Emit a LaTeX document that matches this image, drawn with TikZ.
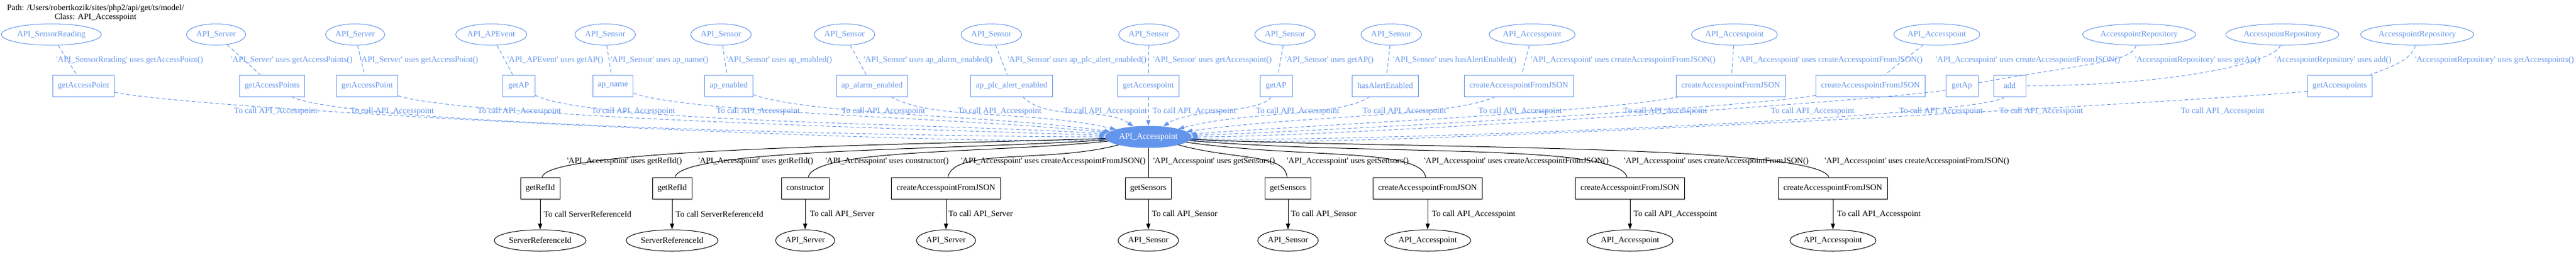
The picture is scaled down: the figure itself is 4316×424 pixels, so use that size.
\documentclass[tikz,border=0pt]{standalone}
\usepackage{fontspec}
\setmainfont{Liberation Serif}
\usepackage{tikz}
\usetikzlibrary{positioning}
\usetikzlibrary{shapes.geometric}
\usetikzlibrary{arrows.meta}
\definecolor{cfblue}{RGB}{100,149,237}
\newcommand{\apo}{\textquotesingle}

\begin{document}
\begin{tikzpicture}[
  x=1pt, y=1pt,
  font=\fontsize{14}{15}\selectfont,
  cls/.style={draw=cfblue, ellipse, text=cfblue, line width=1pt, minimum height=36pt, inner xsep=2pt, inner ysep=0pt},
  meth/.style={draw=cfblue, text=cfblue, line width=1pt, minimum width=54pt, minimum height=36pt, inner xsep=8.5pt, inner ysep=0pt},
  hub/.style={draw=cfblue, fill=cfblue, ellipse, text=white, line width=1pt, minimum height=36pt, inner xsep=2pt, inner ysep=0pt},
  bmeth/.style={draw, line width=1pt, minimum width=54pt, minimum height=36pt, inner xsep=8.5pt, inner ysep=0pt},
  leaf/.style={draw, ellipse, line width=1pt, minimum height=36pt, inner xsep=2pt, inner ysep=0pt},
  lbl/.style={anchor=west, inner sep=0pt, text=cfblue},
  blbl/.style={anchor=west, inner sep=0pt},
  uses/.style={draw=cfblue, line width=1pt, dash pattern=on 6pt off 4pt},
  calls/.style={uses, -{Triangle[length=10pt, width=7pt]}},
  link/.style={draw, line width=1pt},
  arrow/.style={link, -{Triangle[length=10pt, width=7pt]}}
]

\useasboundingbox (0,0) rectangle (4316,-424);

% Title
\node[align=center] (title) at (160,-22) {Path: /Users/robertkozik/sites/php2/api/get/ts/model/\\Class: API\_Accesspoint};

% Callers (top row)
\node[cls] (c1) at (86,-58) {API\_SensorReading};
\node[cls] (c2) at (362,-58) {API\_Server};
\node[cls] (c3) at (595,-58) {API\_Server};
\node[cls] (c4) at (823,-58) {API\_APEvent};
\node[cls] (c5) at (1014,-58) {API\_Sensor};
\node[cls] (c6) at (1208,-58) {API\_Sensor};
\node[cls] (c7) at (1415,-58) {API\_Sensor};
\node[cls] (c8) at (1661,-58) {API\_Sensor};
\node[cls] (c9) at (1925,-58) {API\_Sensor};
\node[cls] (c10) at (2153,-58) {API\_Sensor};
\node[cls] (c11) at (2331,-58) {API\_Sensor};
\node[cls] (c12) at (2567,-58) {API\_Accesspoint};
\node[cls] (c13) at (2906,-58) {API\_Accesspoint};
\node[cls] (c14) at (3245,-58) {API\_Accesspoint};
\node[cls] (c15) at (3584,-58) {AccesspointRepository};
\node[cls] (c16) at (3824,-58) {AccesspointRepository};
\node[cls] (c17) at (4050,-58) {AccesspointRepository};

% Methods used by the callers
\node[meth] (m1) at (140,-144) {getAccessPoint};
\node[meth] (m2) at (456,-144) {getAccessPoints};
\node[meth] (m3) at (615,-144) {getAccessPoint};
\node[meth] (m4) at (869,-144) {getAP};
\node[meth] (m5) at (1027,-144) {ap\_name};
\node[meth] (m6) at (1221,-144) {ap\_enabled};
\node[meth] (m7) at (1461,-144) {ap\_alarm\_enabled};
\node[meth] (m8) at (1695,-144) {ap\_plc\_alert\_enabled};
\node[meth] (m9) at (1924,-144) {getAccesspoint};
\node[meth] (m10) at (2138,-144) {getAP};
\node[meth] (m11) at (2321,-144) {hasAlertEnabled};
\node[meth] (m12) at (2545,-144) {createAccesspointFromJSON};
\node[meth] (m13) at (2900,-144) {createAccesspointFromJSON};
\node[meth] (m14) at (3134,-144) {createAccesspointFromJSON};
\node[meth] (m15) at (3287,-144) {getAp};
\node[meth] (m16) at (3367,-144) {add};
\node[meth] (m17) at (3920,-144) {getAccesspoints};

% The class itself
\node[hub] (hub) at (1924,-230) {API\_Accesspoint};

% Methods of the class and the classes they call
\node[bmeth] (b1) at (905,-316) {getRefId};
\node[bmeth] (b2) at (1126,-316) {getRefId};
\node[bmeth] (b3) at (1349,-316) {constructor};
\node[bmeth] (b4) at (1585,-316) {createAccesspointFromJSON};
\node[bmeth] (b5) at (1924,-316) {getSensors};
\node[bmeth] (b6) at (2158,-316) {getSensors};
\node[bmeth] (b7) at (2392,-316) {createAccesspointFromJSON};
\node[bmeth] (b8) at (2731,-316) {createAccesspointFromJSON};
\node[bmeth] (b9) at (3071,-316) {createAccesspointFromJSON};

\node[leaf, below=51pt of b1] (l1) {ServerReferenceId};
\node[leaf, below=51pt of b2] (l2) {ServerReferenceId};
\node[leaf, below=51pt of b3] (l3) {API\_Server};
\node[leaf, below=51pt of b4] (l4) {API\_Server};
\node[leaf, below=51pt of b5] (l5) {API\_Sensor};
\node[leaf, below=51pt of b6] (l6) {API\_Sensor};
\node[leaf, below=51pt of b7] (l7) {API\_Accesspoint};
\node[leaf, below=51pt of b8] (l8) {API\_Accesspoint};
\node[leaf, below=51pt of b9] (l9) {API\_Accesspoint};

% Labels: callers use methods
\node[lbl] (u1) at (94,-101) {\apo API\_SensorReading\apo{} uses getAccessPoint()};
\node[lbl] (u2) at (387,-101) {\apo API\_Server\apo{} uses getAccessPoints()};
\node[lbl] (u3) at (603,-101) {\apo API\_Server\apo{} uses getAccessPoint()};
\node[lbl] (u4) at (850,-101) {\apo API\_APEvent\apo{} uses getAP()};
\node[lbl] (u5) at (1023,-101) {\apo API\_Sensor\apo{} uses ap\_name()};
\node[lbl] (u6) at (1217,-101) {\apo API\_Sensor\apo{} uses ap\_enabled()};
\node[lbl] (u7) at (1447,-101) {\apo API\_Sensor\apo{} uses ap\_alarm\_enabled()};
\node[lbl] (u8) at (1688,-101) {\apo API\_Sensor\apo{} uses ap\_plc\_alert\_enabled()};
\node[lbl] (u9) at (1932,-101) {\apo API\_Sensor\apo{} uses getAccesspoint()};
\node[lbl] (u10) at (2153,-101) {\apo API\_Sensor\apo{} uses getAP()};
\node[lbl] (u11) at (2334,-101) {\apo API\_Sensor\apo{} uses hasAlertEnabled()};
\node[lbl] (u12) at (2565,-101) {\apo API\_Accesspoint\apo{} uses createAccesspointFromJSON()};
\node[lbl] (u13) at (2912,-101) {\apo API\_Accesspoint\apo{} uses createAccesspointFromJSON()};
\node[lbl] (u14) at (3243,-101) {\apo API\_Accesspoint\apo{} uses createAccesspointFromJSON()};
\node[lbl] (u15) at (3577,-101) {\apo AccesspointRepository\apo{} uses getAp()};
\node[lbl] (u16) at (3811,-101) {\apo AccesspointRepository\apo{} uses add()};
\node[lbl] (u17) at (4046,-101) {\apo AccesspointRepository\apo{} uses getAccesspoints()};

% Labels: methods call the class
\node[lbl] (t1) at (392,-187) {To call API\_Accesspoint};
\node[lbl] (t2) at (587,-187) {To call API\_Accesspoint};
\node[lbl] (t3) at (800,-187) {To call API\_Accesspoint};
\node[lbl] (t4) at (991,-187) {To call API\_Accesspoint};
\node[lbl] (t5) at (1200,-187) {To call API\_Accesspoint};
\node[lbl] (t6) at (1410,-187) {To call API\_Accesspoint};
\node[lbl] (t7) at (1605,-187) {To call API\_Accesspoint};
\node[lbl] (t8) at (1782,-187) {To call API\_Accesspoint};
\node[lbl] (t9) at (1931,-187) {To call API\_Accesspoint};
\node[lbl] (t10) at (2104,-187) {To call API\_Accesspoint};
\node[lbl] (t11) at (2283,-187) {To call API\_Accesspoint};
\node[lbl] (t12) at (2477,-187) {To call API\_Accesspoint};
\node[lbl] (t13) at (2720,-187) {To call API\_Accesspoint};
\node[lbl] (t14) at (2967,-187) {To call API\_Accesspoint};
\node[lbl] (t15) at (3182,-187) {To call API\_Accesspoint};
\node[lbl] (t16) at (3350,-187) {To call API\_Accesspoint};
\node[lbl] (t17) at (3654,-187) {To call API\_Accesspoint};

% Labels: the class uses its methods
\node[blbl] (bu1) at (950,-271) {\apo API\_Accesspoint\apo{} uses getRefId()};
\node[blbl] (bu2) at (1170,-271) {\apo API\_Accesspoint\apo{} uses getRefId()};
\node[blbl] (bu3) at (1383,-271) {\apo API\_Accesspoint\apo{} uses constructor()};
\node[blbl] (bu4) at (1610,-271) {\apo API\_Accesspoint\apo{} uses createAccesspointFromJSON()};
\node[blbl] (bu5) at (1932,-271) {\apo API\_Accesspoint\apo{} uses getSensors()};
\node[blbl] (bu6) at (2156,-271) {\apo API\_Accesspoint\apo{} uses getSensors()};
\node[blbl] (bu7) at (2386,-271) {\apo API\_Accesspoint\apo{} uses createAccesspointFromJSON()};
\node[blbl] (bu8) at (2721,-271) {\apo API\_Accesspoint\apo{} uses createAccesspointFromJSON()};
\node[blbl] (bu9) at (3057,-271) {\apo API\_Accesspoint\apo{} uses createAccesspointFromJSON()};

\node[blbl] (bt1) at (911,-360) {To call ServerReferenceId};
\node[blbl] (bt2) at (1132,-360) {To call ServerReferenceId};
\node[blbl] (bt3) at (1357,-360) {To call API\_Server};
\node[blbl] (bt4) at (1589,-360) {To call API\_Server};
\node[blbl] (bt5) at (1930,-360) {To call API\_Sensor};
\node[blbl] (bt6) at (2163,-360) {To call API\_Sensor};
\node[blbl] (bt7) at (2399,-360) {To call API\_Accesspoint};
\node[blbl] (bt8) at (2737,-360) {To call API\_Accesspoint};
\node[blbl] (bt9) at (3078,-360) {To call API\_Accesspoint};

% Callers -> methods
\draw[uses] (c1) -- (m1);
\draw[uses] (c2) -- (m2);
\draw[uses] (c3) -- (m3);
\draw[uses] (c4) -- (m4);
\draw[uses] (c5) -- (m5);
\draw[uses] (c6) -- (m6);
\draw[uses] (c7) -- (m7);
\draw[uses] (c8) -- (m8);
\draw[uses] (c9) -- (m9);
\draw[uses] (c10) -- (m10);
\draw[uses] (c11) -- (m11);
\draw[uses] (c12) -- (m12);
\draw[uses] (c13) -- (m13);
\draw[uses] (c14) -- (m14);
\draw[uses] (c15.-105) .. controls +(-110:30) and +(10:200) .. (m15.10);
\draw[uses] (c16.-100) .. controls +(-110:30) and +(0:250) .. (m16.0);
\draw[uses] (c17.-100) .. controls +(-105:25) and +(20:40) .. (m17.20);

% Methods -> class
\draw[calls] (m1.-12) .. controls +(-12:150) and +(183:250) .. (hub.183);
\draw[calls] (m2.-30) .. controls +(-25:120) and +(180:250) .. (hub.180);
\draw[calls] (m3.-18) .. controls +(-18:120) and +(178:250) .. (hub.178);
\draw[calls] (m4.-30) .. controls +(-28:100) and +(176:250) .. (hub.176);
\draw[calls] (m5.-20) .. controls +(-20:100) and +(174:250) .. (hub.174);
\draw[calls] (m6.-20) .. controls +(-20:100) and +(172:200) .. (hub.172);
\draw[calls] (m7.-30) .. controls +(-30:80) and +(167:150) .. (hub.167);
\draw[calls] (m8.-45) .. controls +(-45:60) and +(145:60) .. (hub.145);
\draw[calls] (m9) -- (hub);
\draw[calls] (m10.-115) .. controls +(-115:30) and +(35:50) .. (hub.35);
\draw[calls] (m11.-145) .. controls +(-145:60) and +(15:120) .. (hub.15);
\draw[calls] (m12.-155) .. controls +(-155:80) and +(8:200) .. (hub.8);
\draw[calls] (m13.-168) .. controls +(-168:120) and +(4:250) .. (hub.4);
\draw[calls] (m14.-170) .. controls +(-170:120) and +(2:250) .. (hub.2);
\draw[calls] (m15.-165) .. controls +(-170:100) and +(0:250) .. (hub.0);
\draw[calls] (m16.-115) .. controls +(-120:40) and +(-2:250) .. (hub.-2);
\draw[calls] (m17.-170) .. controls +(185:200) and +(-4:250) .. (hub.-4);

% Class -> its methods
\draw[link] (hub.182) .. controls +(182:300) and +(80:50) .. (b1.80);
\draw[link] (hub.184) .. controls +(184:250) and +(75:50) .. (b2.75);
\draw[link] (hub.186) .. controls +(186:200) and +(75:50) .. (b3.75);
\draw[link] (hub.195) .. controls +(195:120) and +(80:50) .. (b4.80);
\draw[link] (hub) -- (b5);
\draw[link] (hub.-15) .. controls +(-15:100) and +(95:40) .. (b6.95);
\draw[link] (hub.-8) .. controls +(-8:200) and +(100:50) .. (b7.100);
\draw[link] (hub.-5) .. controls +(-5:300) and +(105:60) .. (b8.105);
\draw[link] (hub.-3) .. controls +(-3:300) and +(110:60) .. (b9.110);

% Methods -> called classes
\draw[arrow] (b1) -- (l1);
\draw[arrow] (b2) -- (l2);
\draw[arrow] (b3) -- (l3);
\draw[arrow] (b4) -- (l4);
\draw[arrow] (b5) -- (l5);
\draw[arrow] (b6) -- (l6);
\draw[arrow] (b7) -- (l7);
\draw[arrow] (b8) -- (l8);
\draw[arrow] (b9) -- (l9);

\end{tikzpicture}
\end{document}
